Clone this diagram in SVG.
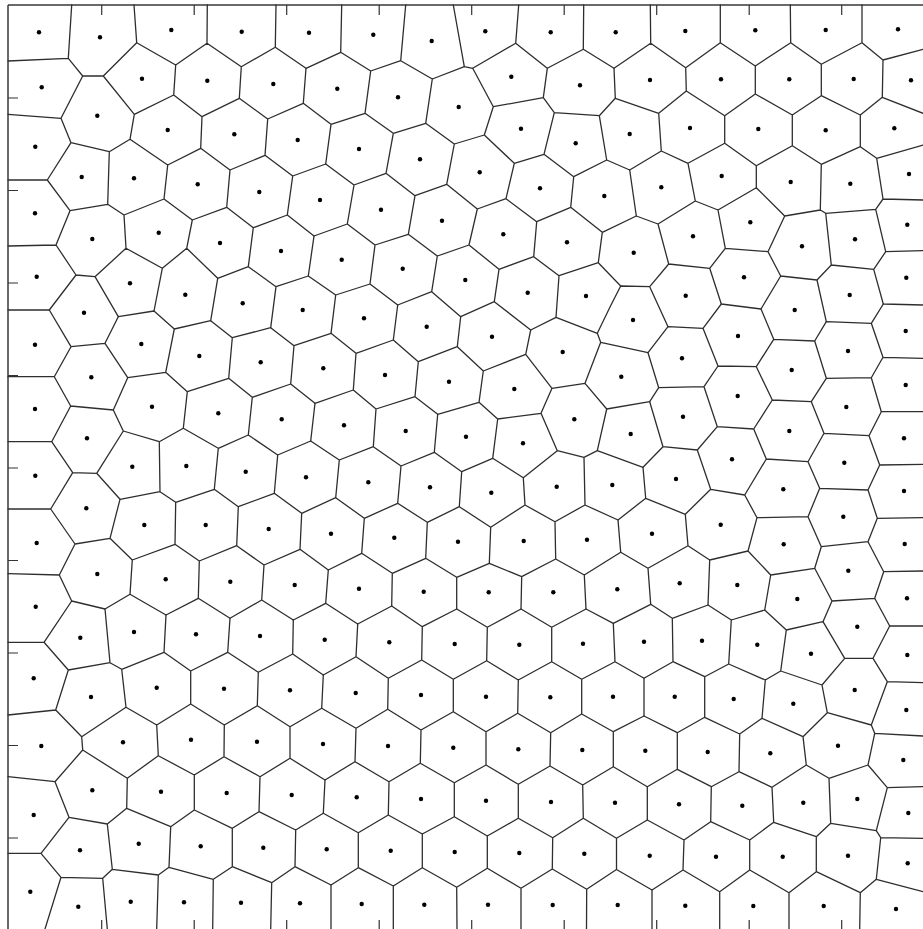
<svg xmlns="http://www.w3.org/2000/svg" width="923" height="929" viewBox="0 0 923 929">
<style>
.e{fill:none;stroke:#2e2e2e;stroke-width:1.3;stroke-linejoin:round;stroke-linecap:round}
.f{fill:none;stroke:#3a3a3a;stroke-width:1.5}
.t{fill:none;stroke:#333;stroke-width:1.2}
.d circle{fill:#000}
</style>
<rect width="923" height="929" fill="#fff"/>
<g id="axes">
<path class="f" d="M8 5H923M8 5V929"/>
<path class="t" d="M101.7 5V15M194.2 5V15M286.7 5V15M379.2 5V15M471.7 5V15M564.2 5V15M656.7 5V15M749.2 5V15M841.7 5V15M8 98H18M8 190.5H18M8 283H18M8 375.5H18M8 468H18M8 560.5H18M8 653H18M8 745.5H18M8 838H18M101.7 920V929M194.2 920V929M286.7 920V929M379.2 920V929M471.7 920V929M564.2 920V929M656.7 920V929M749.2 920V929M841.7 920V929"/>
</g>
<g id="voronoi-edges">
<path class="e" d="M71.7 5L68.3 58.3M8 61L68.3 58.3L82.7 76L103.3 76L136.7 42.7L134 5M136.7 42.7L175.7 65L207 43.3L207.3 5M207 43.3L241.3 66.7L275.3 47.3L276 5M275.3 47.3L306 68.3L303.3 103.3M175.7 65L173.7 95L134.3 114.3L103.3 76M173.7 95L202 116.7L239.3 98.3L241.3 66.7M239.3 98.3L267.7 119L303.3 103.3M82.7 76L61 118.3M8 114.3L61 118.3L71 142.7L109.3 151.7L130 139.3L134.3 114.3M130 139.3L167.7 165L200.7 148.3L202 116.7M200.7 148.3L230 170L265 155.3L267.7 119M265 155.3L292.7 176L287.3 215M71 142.7L47.3 180M8 180L47.3 180L70 210.7L107.7 204.3L109.3 151.7M107.7 204.3L124 215L164 199L167.7 165M164 199L192.3 220L226.7 207.3L230 170M226.7 207.3L253.3 227.7L287.3 215L314 236M70 210.7L56 245M8 246L56 245L76 275L95 276.7L126 248.3L124 215M126 248.3L162.3 268.3L186.7 248.3L192.3 220M186.7 248.3L217.7 278.3L248.3 266.7L253.3 227.7M248.3 266.7L276 286.7L308.3 276M76 275L49.3 310M8 310L49.3 310M95 276.7L118.3 316.7M162.3 268.3L154 311M217.7 278.3L210.7 320.7M276 286.7L270.7 327.7M292.7 176L325.7 164"/>
<path class="e" d="M341.7 5L340.7 52.3M306 68.3L340.7 52.3L370.7 71L400.7 60.7L405.7 5M400.7 60.7L432.3 79L464.3 66.7L453.3 5M464.3 66.7L472.7 68.3L515.7 43.3L518.7 5M515.7 43.3L547.3 68.3L583.3 49.3L583.7 5M583.3 49.3L614 68.3M472.7 68.3L493.3 106.7L543.3 97.7L547.3 68.3M543.3 97.7L554.3 112.7L599.3 115.7L615.3 98.3M599.3 115.7L606.7 160M370.7 71L365 113.3L331 124.3L303.3 103.3M365 113.3L393.3 133.3L425.7 123.3L432.3 79M425.7 123.3L454.3 144L484.3 135L493.3 106.7M484.3 135L514.3 163.3L544 154.3L554.3 112.7M544 154.3L573.7 176.7L606.7 160L629.7 170M331 124.3L325.7 164L354 185L386 173.3L393.3 133.3M386 173.3L415 195.7L446.7 184.3L454.3 144M446.7 184.3L477.3 209L506 198.7L514.3 163.3M506 198.7L536.7 221.7L570.7 207.3L573.7 176.7M570.7 207.3L602.3 232.3L636.3 216M354 185L347.3 224L314 236L308.3 276M347.3 224L375 245L408.3 234.3L415 195.7M408.3 234.3L437.3 256L469 245L477.3 209M469 245L499 269.3L533.7 256.7L536.7 221.7M533.7 256.7L559 275.7L598.3 262.7L602.3 232.3M598.3 262.7L620.7 286M375 245L370 284L335.7 295L308.3 276M335.7 295L331 333.3M370 284L397.7 305L431.7 291.7L437.3 256M431.7 291.7L460.7 316.7M499 269.3L494.3 301.7L460.7 316.7M494.3 301.7L530.7 330M559 275.7L556 317.3"/>
<path class="e" d="M650.3 5L650.7 43.3L614 68.3L615.3 98.3L658.7 113.3M650.7 43.3L685.7 67.7L720.3 42.7L720.3 5M720.3 42.7L755.3 66L790.7 42.7L790.3 5M790.7 42.7L821.3 64.3L862 42.7L862 5M862 42.7L883 60L923 49.3M883 60L882.3 97.3L923 113.3M882.3 97.3L860.3 115L821.3 95.7L821.3 64.3M821.3 95.7L792.3 115L755.3 94L755.3 66M755.3 94L724.7 115.7L686.3 91L685.7 67.7M686.3 91L658.7 113.3L661.3 151L629.7 170M661.3 151L688 163.3L724.7 143.3L724.7 115.7M724.7 143.3L756.3 165.7L792.3 145.7L792.3 115M792.3 145.7L821.3 164.3L860.3 146.7L860.3 115M860.3 146.7L876.7 158.3L923 145M876.7 158.3L883 199L923 200M883 199L875.7 209.3L825.7 213.3L820.3 210L821.3 164.3M820.3 210L784.7 216L756.3 187.7L756.3 165.7M756.3 187.7L718 210L695.3 201L688 163.3M695.3 201L658 224L636.3 216L629.7 170M658 224L668.7 264L709.7 268.3L725.3 248.3L718 210M725.3 248.3L768 251.7L784.7 216M768 251.7L780.7 276L817 280L831.3 265L825.7 213.3M831.3 265L873.7 269.3L885.7 251.7L875.7 209.3M885.7 251.7L923 250.7M873.7 269.3L883.3 304L923 305M817 280L826.3 321.7M780.7 276L761 309M709.7 268.3L721.3 304L761 309M668.7 264L649.7 286.7L620.7 286L611 305L597.3 333.3M649.7 286.7L668 326.7"/>
<path class="e" d="M49.3 310L71 346.7L105 343.3L118.3 316.7L154 311L174.3 329M105 343.3L127.7 377.7L165.7 372.3L174.3 329L210.7 320.7L232.3 337.7L270.7 327.7L294 345.7L331 333.3M294 345.7L290.7 384L315 403.3M290.7 384L252.3 397.3L228.7 378.3L232.3 337.7M228.7 378.3L187.3 391.7L165.7 372.3M187.3 391.7L183.3 428.3L159.3 441.7L123.3 431L113.3 410L127.7 377.7M113.3 410L70.7 406L54.3 376.7L71 346.7M54.3 376.7L8 376.7M70.7 406L51.7 441.7L8 441.7M51.7 441.7L72.7 472.7L96.7 473.3L123.3 431M183.3 428.3L218.3 448.3L248.3 435L252.3 397.3M248.3 435L277.7 455L310.7 441M277.7 455L274.3 493.3L301.7 513.3M274.3 493.3L238.3 506.7L214.3 489.3L218.3 448.3M214.3 489.3L175.7 502.3M159.3 441.7L160 491.7L120 499.3L96.7 473.3M160 491.7L175.7 502.3L175 544.3L132.3 560L110 538.3L120 499.3M110 538.3L75 544L50.7 509L72.7 472.7M50.7 509L8 509M75 544L59.3 575L8 573.7M59.3 575L71.7 601L105 609L130 594.3L132.3 560M130 594.3L166 615L198.3 598.3M175 544.3L199.3 561L236.7 545.7L238.3 506.7M236.7 545.7L264 565L300 549.3L301.7 513.3M264 565L261.7 600L230 618.3M199.3 561L198.3 598.3L230 618.3M261.7 600L293.3 620M300 549.3L328.3 570M301.7 513.3L335.7 497.7"/>
<path class="e" d="M331 333.3L356 353.3L393.3 340L397.7 305M393.3 340L418.3 361.7L457.3 346.7L460.7 316.7M457.3 346.7L483.3 371L525.7 354.3L530.7 330L556 317.3L597.3 333.3L600.7 342.3L648 352.7M600.7 342.3L585 383.3L552 388.3L525.7 354.3M552 388.3L541 413.3L497.7 419L479 402.3L483.3 371M479 402.3L437.7 414.3L415 396.7L418.3 361.7M415 396.7L376 409L353.3 390L356 353.3M353.3 390L315 403.3L310.7 441L339.3 460L373.3 446.7L376 409M373.3 446.7L401 466L434.3 452.3L437.7 414.3M434.3 452.3L461.7 471.7L492.7 458.3L497.7 419M492.7 458.3L523.3 477.7L557.3 450.7L541 413.3M557.3 450.7L584 457.3L597.3 450.7L606.7 409L585 383.3M606.7 409L649.7 401.7M597.3 450.7L643 467.3M584 457.3L585 505L555 521.7L525 505L523.3 477.7M525 505L490.7 527.3L459.3 506.7L461.7 471.7M459.3 506.7L427.3 522.3L397.7 503.3L401 466M397.7 503.3L364.3 518.3L335.7 497.7L339.3 460M585 505L618 520M364.3 518.3L361.7 553.3L328.3 570L325.7 603.3M361.7 553.3L392.3 573.3L425.7 558.3L427.3 522.3M425.7 558.3L456.7 577.3L489.3 563.3L490.7 527.3M489.3 563.3L521.7 576.7L555.7 559L555 521.7M555.7 559L584.3 575L620.7 552.3M584.3 575L586 609M521.7 576.7L521 609M456.7 577.3L456.7 609M392.3 573.3L391.7 606M293.3 620L325.7 603.3L357.7 624"/>
<path class="e" d="M648 352.7L668 326.7L703 328.3L721.3 304M703 328.3L718 366L756.3 366.7L773.7 339.3L761 309M773.7 339.3L814.7 341L826.3 321.7L871.3 323.3L883.3 304M871.3 323.3L883 357.3L923 358.3M883 357.3L871.3 377.7L826.3 378.3L814.7 341M826.3 378.3L811.3 401.7L772.3 400L756.3 366.7M772.3 400L753.7 429L717.3 426.7L704 386.7L718 366M704 386.7L658.7 387.7L648 352.7M658.7 387.7L649.7 401.7L663 446.7L643 467.3L645.7 498.3L618 520M645.7 498.3L685.3 514.3L710.7 489.3L697.3 450L663 446.7M697.3 450L717.3 426.7M710.7 489.3L744.7 495L766.3 459L753.7 429M766.3 459L808 461.7L824 433.3L811.3 401.7M824 433.3L869 435.7L881.3 411.7L871.3 377.7M881.3 411.7L923 411.7M869 435.7L879.7 465L923 464.3M879.7 465L868 490L819.7 488.3L808 461.7M819.7 488.3L808 516.7L757 517.7L744.7 495M757 517.7L748 551L709.7 560L688 545.7L685.3 514.3M688 545.7L648 568.3L620.7 552.3L618 520M648 568.3L650.7 604.3M709.7 560L708 605M748 551L770.7 575L814.7 568.3L821.3 546.7L808 516.7M821.3 546.7L868 541.7L877.3 518.3L868 490M877.3 518.3L923 517.7M868 541.7L883.7 571.7L923 571M883.7 571.7L874.7 598.3L832 601L814.7 568.3M832 601L823 621.7M770.7 575L764.7 610M874.7 598.3L889.7 626"/>
<path class="e" d="M8 642.3L44 642.3L71.7 601M44 642.3L68.3 670L110 662.7L105 609M110 662.7L121.7 669.3L164 652.3L166 615M164 652.3L190.7 671L227.7 652.3L230 618.3M227.7 652.3L258.3 672.3L292.7 654L293.3 620M292.7 654L323.3 675M68.3 670L55.7 710L8 715M55.7 710L81.7 736.7L82.7 750L55 781.7L8 776.7M55 781.7L69 817.3L107.3 824L126.7 808.3L127.3 778.3L82.7 750M81.7 736.7L126 707.3L121.7 669.3M126 707.3L156.7 725L190.7 704L190.7 671M190.7 704L224.3 725L257.3 705.7L258.3 672.3M257.3 705.7L290 726.7L321.7 708.3M290 726.7L290 758.3L325 780M290 758.3L260 776.7L224 756.7L224.3 725M224 756.7L194.3 775L158.3 755.7L156.7 725M158.3 755.7L127.3 778.3M126.7 808.3L170.7 826.7L194.3 810L194.3 775M194.3 810L232.3 828.3L259 811.7L260 776.7M259 811.7L295.7 830L323.3 813.3M295.7 830L295 866.7L331 885M295 866.7L271.7 882.7L232.3 866.7L232.3 828.3M232.3 866.7L213.3 879.3L169 867.3L170.7 826.7M169 867.3L158.3 875L112.3 869.3L107.3 824M112.3 869.3L102.7 878.3L61 877.3L41 853.3L69 817.3M41 853.3L8 853.3M61 877.3L45 929M102.7 878.3L107.3 929M158.3 875L156.7 929M213.3 879.3L212.7 929M271.7 882.7L270.7 929"/>
<path class="e" d="M357.7 624L391.7 606L422.3 626.7L456.7 609L487.3 627.3L521 609L551.7 627.3L586 609L613.3 623.3M357.7 624L356 656.7M422.3 626.7L421.7 660M487.3 627.3L486.7 660.7M551.7 627.3L551.7 661.7M613.3 623.3L615 661.7M323.3 675L356 656.7L388.3 678.3L421.7 660L453.3 679.3L486.7 660.7L518.3 680L551.7 661.7L581.7 679.3L615 661.7L644 678.3M323.3 675L321.7 708.3M388.3 678.3L387.7 709.3M453.3 679.3L453.3 711.7M518.3 680L517.7 713.3M581.7 679.3L581.7 714M321.7 708.3L356 728.3L387.7 709.3L421 730L453.3 711.7L486 731.7L517.7 713.3L550.7 732.7L581.7 714L613.3 731.7L644 716M356 728.3L355 761.7M421 730L420.3 763.3M486 731.7L486 765M550.7 732.7L550 766M613.3 731.7L613.3 766.7M325 780L355 761.7L389 781.7L420.3 763.3L454.3 782.7L486 765L518.3 784.3L550 766L582.7 785L613.3 766.7L647.3 786.7M325 780L323.3 813.3M389 781.7L388.3 815M454.3 782.7L454.3 816.7M518.3 784.3L518.3 818.3M582.7 785L583.3 818.3M323.3 813.3L358.3 832.7L388.3 815L422.3 834L454.3 816.7L487.3 836L518.3 818.3L552.7 837.7L583.3 818.3L616.5 838.3L647.3 820M358.3 832.7L358.3 867.7M422.3 834L422.3 867.7M487.3 836L487.3 868.3M552.7 837.7L552.3 869M616.5 838.3L616.5 869.5M331 885L358.3 867.7L393.3 886L422.3 867.7L456.7 887.3L487.3 868.3L521 888.3L552.3 869L586.7 889.3L616.5 869.5L652 890M331 885L331 929M393.3 886L393.3 929M456.7 887.3L457 929M521 888.3L521 929M586.7 889.3L586.5 929"/>
<path class="e" d="M613.3 623.3L650.7 604.3L672.3 618.3L708 605L731.3 620L764.7 610L786.3 630L823 621.7L844.7 658.3L873 658.3L889.7 626L923 626M873 658.3L887.3 681.7L923 682.7M887.3 681.7L871.3 725L874.7 733.3L923 736M874.7 733.3L868 765L887.3 787.7L923 786.7M887.3 787.7L876.3 830.7L880.7 837.7L923 838.3M880.7 837.7L876.3 879.3L923 891.7M876.3 879.3L860.3 892.7L859.7 929M860.3 892.7L816.3 871.7L816.3 836.7L830.7 823.3L876.3 830.7M830.7 823.3L829 778.3L868 765M829 778.3L806.3 765L803 736.7L827.3 712.7L871.3 725M827.3 712.7L822 685L844.7 658.3M822 685L780.7 671L786.3 630M780.7 671L765.3 680L728.7 664L731.3 620M728.7 664L704.7 676.7L673 661.7L672.3 618.3M673 661.7L644 678.3L644 716L677.3 732.7L704.7 717.3L704.7 676.7M704.7 717.3L739.7 734L762 718.3L765.3 680M762 718.3L803 736.7M739.7 734L739 771.7L772 787.3L806.3 765M772 787.3L773.7 822.3L816.3 836.7M773.7 822.3L749.7 840L710.7 821.7L711.3 786.7L739 771.7M711.3 786.7L677.3 769.3L677.3 732.7M677.3 769.3L647.3 786.7L647.3 820L684 840L710.7 821.7M684 840L683 870L719.7 891.7L749.7 870L749.7 840M749.7 870L789 892.7L816.3 871.7M789 892.7L789 929M719.7 891.7L719.7 929M683 870L652 890L652 929"/>
</g>
<g id="seeds" class="d">
<circle cx="39" cy="32.3" r="2.2"/><circle cx="100" cy="37.3" r="2.2"/><circle cx="171.3" cy="30" r="2.2"/><circle cx="241.7" cy="31.7" r="2.2"/><circle cx="309" cy="32.7" r="2.2"/>
<circle cx="41.7" cy="87.3" r="2.2"/><circle cx="142" cy="78.7" r="2.2"/><circle cx="207.3" cy="80.7" r="2.2"/><circle cx="273.3" cy="84" r="2.2"/>
<circle cx="97.3" cy="115.7" r="2.2"/><circle cx="167.7" cy="130" r="2.2"/><circle cx="234.3" cy="134.3" r="2.2"/><circle cx="297.7" cy="140" r="2.2"/>
<circle cx="35.3" cy="146.7" r="2.2"/>
<circle cx="81.7" cy="177" r="2.2"/><circle cx="134" cy="178.3" r="2.2"/><circle cx="197.7" cy="184.3" r="2.2"/><circle cx="259.3" cy="192" r="2.2"/>
<circle cx="35" cy="213.3" r="2.2"/><circle cx="92.3" cy="239" r="2.2"/><circle cx="158.7" cy="232.7" r="2.2"/><circle cx="220" cy="243" r="2.2"/><circle cx="281" cy="251" r="2.2"/>
<circle cx="36.7" cy="276.7" r="2.2"/><circle cx="130" cy="283.3" r="2.2"/><circle cx="185.3" cy="294.7" r="2.2"/><circle cx="242.7" cy="303.3" r="2.2"/><circle cx="302.7" cy="310" r="2.2"/>
<circle cx="84" cy="312.7" r="2.2"/>
<circle cx="373.3" cy="34.7" r="2.2"/><circle cx="431.7" cy="41" r="2.2"/><circle cx="485.3" cy="31.3" r="2.2"/><circle cx="550.7" cy="32.3" r="2.2"/><circle cx="615.7" cy="32.3" r="2.2"/>
<circle cx="337.3" cy="88.7" r="2.2"/><circle cx="398" cy="97.3" r="2.2"/><circle cx="458.7" cy="107" r="2.2"/><circle cx="511.3" cy="76.7" r="2.2"/><circle cx="580" cy="85.3" r="2.2"/>
<circle cx="359" cy="149" r="2.2"/><circle cx="420" cy="159.3" r="2.2"/><circle cx="479.7" cy="172.3" r="2.2"/><circle cx="521" cy="128.7" r="2.2"/><circle cx="575.7" cy="143.3" r="2.2"/>
<circle cx="320" cy="200" r="2.2"/><circle cx="381" cy="209.7" r="2.2"/><circle cx="442" cy="220.7" r="2.2"/><circle cx="503.3" cy="234.3" r="2.2"/><circle cx="540" cy="188.3" r="2.2"/><circle cx="604.3" cy="196" r="2.2"/>
<circle cx="341.7" cy="259.7" r="2.2"/><circle cx="402.7" cy="268.7" r="2.2"/><circle cx="465.3" cy="280" r="2.2"/><circle cx="527.7" cy="292.7" r="2.2"/><circle cx="586" cy="296" r="2.2"/><circle cx="567" cy="242.3" r="2.2"/>
<circle cx="685.3" cy="31" r="2.2"/><circle cx="755.3" cy="30.3" r="2.2"/><circle cx="825.7" cy="30" r="2.2"/><circle cx="898" cy="29.3" r="2.2"/>
<circle cx="650" cy="80" r="2.2"/><circle cx="721" cy="79.3" r="2.2"/><circle cx="789.3" cy="79.3" r="2.2"/><circle cx="853.7" cy="79" r="2.2"/><circle cx="911" cy="80.3" r="2.2"/>
<circle cx="629.7" cy="134" r="2.2"/><circle cx="690" cy="128" r="2.2"/><circle cx="758.3" cy="129" r="2.2"/><circle cx="825.7" cy="130.3" r="2.2"/><circle cx="894.3" cy="128.3" r="2.2"/>
<circle cx="661.3" cy="187.3" r="2.2"/><circle cx="721.7" cy="176" r="2.2"/><circle cx="790.7" cy="182" r="2.2"/><circle cx="850.3" cy="183.7" r="2.2"/><circle cx="909" cy="174" r="2.2"/>
<circle cx="633.7" cy="252.7" r="2.2"/><circle cx="693" cy="236.3" r="2.2"/><circle cx="750.3" cy="222.3" r="2.2"/><circle cx="802" cy="246.3" r="2.2"/><circle cx="855" cy="239.3" r="2.2"/><circle cx="907.3" cy="224.7" r="2.2"/>
<circle cx="685.7" cy="295.7" r="2.2"/><circle cx="744" cy="277.3" r="2.2"/><circle cx="794.7" cy="310" r="2.2"/><circle cx="849.7" cy="295" r="2.2"/><circle cx="906.3" cy="277.7" r="2.2"/>
<circle cx="35" cy="344.7" r="2.2"/><circle cx="141.3" cy="344" r="2.2"/><circle cx="199.3" cy="356" r="2.2"/><circle cx="260.7" cy="362.3" r="2.2"/>
<circle cx="91.3" cy="377.3" r="2.2"/><circle cx="35" cy="409" r="2.2"/><circle cx="152" cy="406.7" r="2.2"/><circle cx="218.3" cy="413.3" r="2.2"/><circle cx="281.7" cy="419.3" r="2.2"/>
<circle cx="87" cy="438.3" r="2.2"/><circle cx="35.3" cy="475.7" r="2.2"/><circle cx="132.3" cy="466.7" r="2.2"/><circle cx="186.3" cy="466" r="2.2"/><circle cx="245.7" cy="471.7" r="2.2"/><circle cx="306" cy="477.3" r="2.2"/>
<circle cx="86.3" cy="508.3" r="2.2"/><circle cx="144.3" cy="525" r="2.2"/><circle cx="205.7" cy="525" r="2.2"/><circle cx="268.7" cy="529" r="2.2"/>
<circle cx="36.7" cy="543" r="2.2"/><circle cx="97.3" cy="574" r="2.2"/><circle cx="165.7" cy="579.3" r="2.2"/><circle cx="230.3" cy="581.7" r="2.2"/><circle cx="294.7" cy="585" r="2.2"/>
<circle cx="35.7" cy="606.7" r="2.2"/>
<circle cx="364" cy="318.3" r="2.2"/><circle cx="426.7" cy="326.7" r="2.2"/><circle cx="492" cy="336.7" r="2.2"/><circle cx="562.7" cy="352" r="2.2"/>
<circle cx="323.3" cy="368.3" r="2.2"/><circle cx="385" cy="375" r="2.2"/><circle cx="449" cy="381.7" r="2.2"/><circle cx="514.3" cy="389" r="2.2"/><circle cx="574.3" cy="419.3" r="2.2"/>
<circle cx="344" cy="425.3" r="2.2"/><circle cx="405.7" cy="431" r="2.2"/><circle cx="466" cy="436.7" r="2.2"/><circle cx="523" cy="443.3" r="2.2"/>
<circle cx="368.3" cy="482.3" r="2.2"/><circle cx="430" cy="487.3" r="2.2"/><circle cx="491.3" cy="492.7" r="2.2"/><circle cx="556.7" cy="486.7" r="2.2"/><circle cx="612.3" cy="485" r="2.2"/>
<circle cx="331" cy="533.7" r="2.2"/><circle cx="394.3" cy="537.7" r="2.2"/><circle cx="458" cy="541.7" r="2.2"/><circle cx="523.7" cy="541" r="2.2"/><circle cx="587" cy="539.7" r="2.2"/>
<circle cx="359" cy="588.7" r="2.2"/><circle cx="423.7" cy="591.7" r="2.2"/><circle cx="488.7" cy="592.3" r="2.2"/><circle cx="553.3" cy="592.3" r="2.2"/><circle cx="617.3" cy="589.3" r="2.2"/>
<circle cx="633" cy="320" r="2.2"/><circle cx="738" cy="336" r="2.2"/><circle cx="905.7" cy="331" r="2.2"/>
<circle cx="682" cy="358.3" r="2.2"/><circle cx="848" cy="351" r="2.2"/>
<circle cx="621.3" cy="376.7" r="2.2"/><circle cx="737.7" cy="396" r="2.2"/><circle cx="791.7" cy="370" r="2.2"/><circle cx="905.7" cy="385" r="2.2"/>
<circle cx="683" cy="416.7" r="2.2"/><circle cx="846.3" cy="407" r="2.2"/>
<circle cx="630.7" cy="434" r="2.2"/><circle cx="789.3" cy="431" r="2.2"/><circle cx="904" cy="438.3" r="2.2"/>
<circle cx="732" cy="459.3" r="2.2"/><circle cx="844.3" cy="462.7" r="2.2"/>
<circle cx="676" cy="479" r="2.2"/><circle cx="783.3" cy="489.3" r="2.2"/><circle cx="904" cy="491" r="2.2"/>
<circle cx="720.7" cy="524.7" r="2.2"/><circle cx="843.3" cy="516.7" r="2.2"/>
<circle cx="652" cy="533.7" r="2.2"/><circle cx="783.7" cy="544.3" r="2.2"/><circle cx="904.7" cy="544" r="2.2"/>
<circle cx="679.7" cy="583.3" r="2.2"/><circle cx="737.3" cy="585" r="2.2"/><circle cx="848.3" cy="570.7" r="2.2"/>
<circle cx="797.3" cy="599" r="2.2"/><circle cx="907" cy="598.3" r="2.2"/>
<circle cx="80.3" cy="637.7" r="2.2"/><circle cx="134" cy="632" r="2.2"/><circle cx="196" cy="634.3" r="2.2"/><circle cx="260" cy="636" r="2.2"/>
<circle cx="33.7" cy="678.3" r="2.2"/><circle cx="91" cy="697" r="2.2"/><circle cx="156.7" cy="687.7" r="2.2"/><circle cx="224" cy="688.7" r="2.2"/><circle cx="290" cy="690.3" r="2.2"/>
<circle cx="41.3" cy="746" r="2.2"/><circle cx="123" cy="742.3" r="2.2"/><circle cx="191" cy="739.7" r="2.2"/><circle cx="257" cy="741.7" r="2.2"/>
<circle cx="92.3" cy="790.3" r="2.2"/><circle cx="161" cy="791.7" r="2.2"/><circle cx="226.7" cy="793" r="2.2"/><circle cx="291.7" cy="795" r="2.2"/>
<circle cx="33.7" cy="815" r="2.2"/><circle cx="80" cy="850.3" r="2.2"/><circle cx="138.7" cy="843.7" r="2.2"/><circle cx="200.7" cy="846.3" r="2.2"/><circle cx="263.3" cy="847.7" r="2.2"/>
<circle cx="30.3" cy="891.7" r="2.2"/><circle cx="78.3" cy="906.7" r="2.2"/><circle cx="130.7" cy="901.7" r="2.2"/><circle cx="184" cy="902.3" r="2.2"/><circle cx="241" cy="902.7" r="2.2"/><circle cx="300" cy="903.3" r="2.2"/>
<circle cx="324.7" cy="639.7" r="2.2"/><circle cx="389.3" cy="642.3" r="2.2"/><circle cx="454.7" cy="644" r="2.2"/><circle cx="519.3" cy="644.7" r="2.2"/><circle cx="583" cy="643.7" r="2.2"/>
<circle cx="355.7" cy="693" r="2.2"/><circle cx="421" cy="695" r="2.2"/><circle cx="486" cy="696.7" r="2.2"/><circle cx="550.3" cy="697.3" r="2.2"/><circle cx="613" cy="696.7" r="2.2"/>
<circle cx="323" cy="744" r="2.2"/><circle cx="388" cy="746" r="2.2"/><circle cx="453.3" cy="747.7" r="2.2"/><circle cx="518.3" cy="749.3" r="2.2"/><circle cx="582.3" cy="750" r="2.2"/>
<circle cx="356.7" cy="797.3" r="2.2"/><circle cx="421" cy="799" r="2.2"/><circle cx="486" cy="800.7" r="2.2"/><circle cx="551" cy="802" r="2.2"/><circle cx="615" cy="802.7" r="2.2"/>
<circle cx="326.7" cy="849.3" r="2.2"/><circle cx="390.7" cy="850.7" r="2.2"/><circle cx="454.7" cy="852" r="2.2"/><circle cx="519.3" cy="853" r="2.2"/><circle cx="584.3" cy="853.7" r="2.2"/>
<circle cx="361.7" cy="904" r="2.2"/><circle cx="424.3" cy="904.7" r="2.2"/><circle cx="488" cy="904.7" r="2.2"/><circle cx="552.7" cy="905" r="2.2"/><circle cx="617.7" cy="905" r="2.2"/>
<circle cx="644" cy="641.7" r="2.2"/><circle cx="702" cy="640.7" r="2.2"/><circle cx="757.3" cy="644.7" r="2.2"/><circle cx="811" cy="653.7" r="2.2"/><circle cx="857.3" cy="626.7" r="2.2"/><circle cx="907.3" cy="655" r="2.2"/>
<circle cx="674.7" cy="696.7" r="2.2"/><circle cx="733.7" cy="699" r="2.2"/><circle cx="793.3" cy="703.7" r="2.2"/><circle cx="854.7" cy="690" r="2.2"/><circle cx="906.3" cy="710" r="2.2"/>
<circle cx="645.3" cy="750.7" r="2.2"/><circle cx="707.7" cy="752" r="2.2"/><circle cx="770.3" cy="753.3" r="2.2"/><circle cx="838" cy="745.7" r="2.2"/><circle cx="903.3" cy="760" r="2.2"/>
<circle cx="679" cy="804.3" r="2.2"/><circle cx="742.3" cy="805.7" r="2.2"/><circle cx="803.3" cy="802.7" r="2.2"/><circle cx="857.3" cy="799" r="2.2"/><circle cx="908.3" cy="813" r="2.2"/>
<circle cx="649.7" cy="855.7" r="2.2"/><circle cx="716" cy="856.7" r="2.2"/><circle cx="782.7" cy="856.7" r="2.2"/><circle cx="848" cy="855.7" r="2.2"/><circle cx="907.7" cy="863.3" r="2.2"/>
<circle cx="685.3" cy="905.7" r="2.2"/><circle cx="753.3" cy="906" r="2.2"/><circle cx="823.7" cy="906" r="2.2"/><circle cx="896" cy="909" r="2.2"/>
</g>
</svg>
